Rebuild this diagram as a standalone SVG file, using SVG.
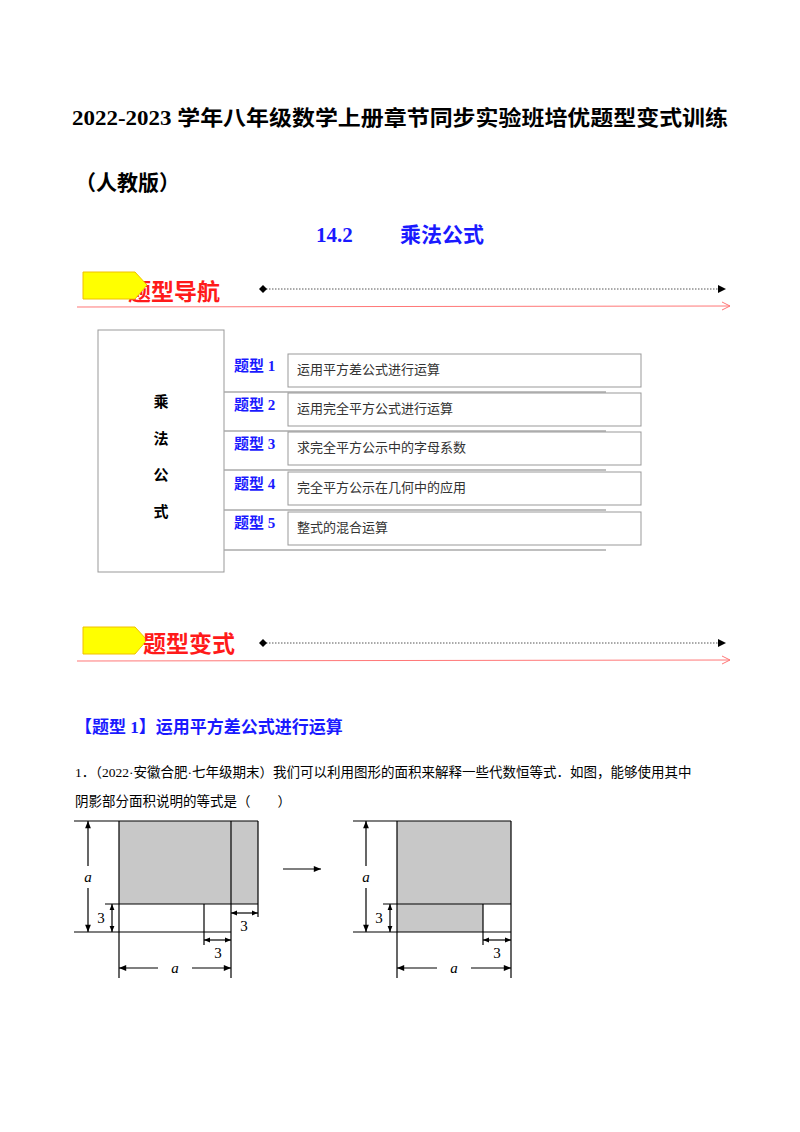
<svg xmlns="http://www.w3.org/2000/svg" width="800" height="1132" viewBox="0 0 800 1132">
<defs>
<marker id="ah" viewBox="0 0 10 10" refX="10" refY="5" markerWidth="8" markerHeight="6" orient="auto-start-reverse"><path d="M0,1 L10,5 L0,9 Z" fill="#000"/></marker>
<marker id="ah2" viewBox="0 0 10 10" refX="10" refY="5" markerWidth="6" markerHeight="5" orient="auto-start-reverse"><path d="M0,1 L10,5 L0,9 Z" fill="#000"/></marker>
</defs>
<style>
text{font-family:"Liberation Serif","Noto Sans CJK SC",serif}
.t{font-weight:bold;font-size:21px}
.lab{fill:#1a1aff;font-weight:bold;font-size:15px}
.item{font-size:13px;fill:#333}
.box{fill:#fff;stroke:#999;stroke-width:1}
.sep{stroke:#aaa;stroke-width:1.5}
.ln{stroke:#000;stroke-width:1.2;fill:none}
.g{fill:#c8c8c8}
.it{font-style:italic;font-size:15px}
.n{font-size:15px}
</style>
<rect width="800" height="1132" fill="#fff"/>
<text x="72" y="125" class="t" textLength="656" lengthAdjust="spacingAndGlyphs">2022-2023 学年八年级数学上册章节同步实验班培优题型变式训练</text>
<text x="75" y="190" class="t">（人教版）</text>
<text x="400" y="242" text-anchor="middle" class="t" fill="#1a1aff">14.2　　 乘法公式</text>
<g id="nav1">
<text x="128" y="300" font-size="23" font-weight="bold" fill="#ff1a1a">题型导航</text>
<path d="M83,272 L135,272 L147,285 L135,299 L83,299 Z" fill="#ffff00" stroke="#f0c000"/>
<line x1="263" y1="289" x2="720" y2="289" stroke="#555" stroke-dasharray="1.5,1.5"/>
<path d="M259,289 L263,285 L267,289 L263,293 Z" fill="#000"/>
<path d="M718,285 L726,289 L718,293 Z" fill="#000"/>
<line x1="77" y1="307" x2="730" y2="306" stroke="#f77" stroke-width="1"/>
<path d="M722,302 L730,306 L722,310" fill="none" stroke="#f77"/>
</g>
<g id="main">
<rect x="98" y="330" width="126" height="242" class="box"/>
<text x="161" y="407" text-anchor="middle" font-size="15" font-weight="bold">乘</text>
<text x="161" y="444" text-anchor="middle" font-size="15" font-weight="bold">法</text>
<text x="161" y="480" text-anchor="middle" font-size="15" font-weight="bold">公</text>
<text x="161" y="517" text-anchor="middle" font-size="15" font-weight="bold">式</text>
</g>
<g id="rows">
<line x1="224" y1="392" x2="606" y2="392" class="sep"/>
<line x1="224" y1="431" x2="606" y2="431" class="sep"/>
<line x1="224" y1="470" x2="606" y2="470" class="sep"/>
<line x1="224" y1="510" x2="606" y2="510" class="sep"/>
<line x1="224" y1="550" x2="606" y2="550" class="sep"/>
</g>
<g id="r1"><text x="234" y="371" class="lab">题型 1</text><rect x="288" y="354" width="353" height="33" class="box"/><text x="297" y="374" class="item">运用平方差公式进行运算</text></g>
<g id="r2"><text x="234" y="410" class="lab">题型 2</text><rect x="288" y="393" width="353" height="33" class="box"/><text x="297" y="413" class="item">运用完全平方公式进行运算</text></g>
<g id="r3"><text x="234" y="449" class="lab">题型 3</text><rect x="288" y="432" width="353" height="33" class="box"/><text x="297" y="452" class="item">求完全平方公示中的字母系数</text></g>
<g id="r4"><text x="234" y="489" class="lab">题型 4</text><rect x="288" y="472" width="353" height="33" class="box"/><text x="297" y="492" class="item">完全平方公示在几何中的应用</text></g>
<g id="r5"><text x="234" y="528" class="lab">题型 5</text><rect x="288" y="512" width="353" height="33" class="box"/><text x="297" y="532" class="item">整式的混合运算</text></g>
<g id="nav2">
<path d="M83,627 L135,627 L147,640 L135,654 L83,654 Z" fill="#ffff00" stroke="#f0c000"/>
<text x="143" y="652" font-size="23" font-weight="bold" fill="#ff1a1a">题型变式</text>
<line x1="263" y1="643" x2="720" y2="643" stroke="#555" stroke-dasharray="1.5,1.5"/>
<path d="M259,643 L263,639 L267,643 L263,647 Z" fill="#000"/>
<path d="M718,639 L726,643 L718,647 Z" fill="#000"/>
<line x1="77" y1="661" x2="730" y2="660" stroke="#f77" stroke-width="1"/>
<path d="M722,656 L730,660 L722,664" fill="none" stroke="#f77"/>
</g>
<text x="75" y="733" font-size="17" font-weight="bold" fill="#1a1aff">【题型 1】运用平方差公式进行运算</text>
<text x="75" y="777" font-size="13.5">1．（2022·安徽合肥·七年级期末）我们可以利用图形的面积来解释一些代数恒等式．如图，能够使用其中</text>
<text x="75" y="806" font-size="13.5">阴影部分面积说明的等式是（　　）</text>
<g id="fig1">
<rect x="119" y="821" width="139" height="83" class="g"/>
<line x1="74" y1="821" x2="258" y2="821" class="ln"/>
<line x1="74" y1="932" x2="231" y2="932" class="ln"/>
<line x1="105" y1="904" x2="258" y2="904" class="ln"/>
<line x1="119" y1="821" x2="119" y2="978" class="ln"/>
<line x1="231" y1="821" x2="231" y2="978" class="ln"/>
<line x1="258" y1="821" x2="258" y2="917" class="ln"/>
<line x1="204" y1="904" x2="204" y2="945" class="ln"/>
<line x1="88" y1="821" x2="88" y2="866" class="ln" marker-start="url(#ah)"/>
<line x1="88" y1="888" x2="88" y2="932" class="ln" marker-end="url(#ah)"/>
<text x="88" y="882" class="it" text-anchor="middle">a</text>
<line x1="112" y1="904" x2="112" y2="932" class="ln" marker-start="url(#ah2)" marker-end="url(#ah2)"/>
<text x="101" y="923" class="n" text-anchor="middle">3</text>
<line x1="231" y1="913" x2="258" y2="913" class="ln" marker-start="url(#ah2)" marker-end="url(#ah2)"/>
<text x="244" y="931" class="n" text-anchor="middle">3</text>
<line x1="204" y1="940" x2="231" y2="940" class="ln" marker-start="url(#ah2)" marker-end="url(#ah2)"/>
<text x="218" y="958" class="n" text-anchor="middle">3</text>
<line x1="119" y1="968" x2="158" y2="968" class="ln" marker-start="url(#ah)"/>
<line x1="192" y1="968" x2="231" y2="968" class="ln" marker-end="url(#ah)"/>
<text x="175" y="973" class="it" text-anchor="middle">a</text>
</g>
<g id="connectors">
<line x1="283" y1="869" x2="321" y2="869" class="ln" marker-end="url(#ah)"/>
</g>
<g id="fig2">
<rect x="397" y="821" width="114" height="83" class="g"/>
<rect x="397" y="904" width="86" height="28" class="g"/>
<line x1="353" y1="821" x2="511" y2="821" class="ln"/>
<line x1="353" y1="932" x2="511" y2="932" class="ln"/>
<line x1="383" y1="904" x2="511" y2="904" class="ln"/>
<line x1="397" y1="821" x2="397" y2="978" class="ln"/>
<line x1="511" y1="821" x2="511" y2="978" class="ln"/>
<line x1="483" y1="904" x2="483" y2="945" class="ln"/>
<line x1="366" y1="821" x2="366" y2="866" class="ln" marker-start="url(#ah)"/>
<line x1="366" y1="888" x2="366" y2="932" class="ln" marker-end="url(#ah)"/>
<text x="366" y="882" class="it" text-anchor="middle">a</text>
<line x1="390" y1="904" x2="390" y2="932" class="ln" marker-start="url(#ah2)" marker-end="url(#ah2)"/>
<text x="379" y="923" class="n" text-anchor="middle">3</text>
<line x1="483" y1="940" x2="511" y2="940" class="ln" marker-start="url(#ah2)" marker-end="url(#ah2)"/>
<text x="497" y="958" class="n" text-anchor="middle">3</text>
<line x1="397" y1="968" x2="437" y2="968" class="ln" marker-start="url(#ah)"/>
<line x1="471" y1="968" x2="511" y2="968" class="ln" marker-end="url(#ah)"/>
<text x="454" y="973" class="it" text-anchor="middle">a</text>
</g>
</svg>
